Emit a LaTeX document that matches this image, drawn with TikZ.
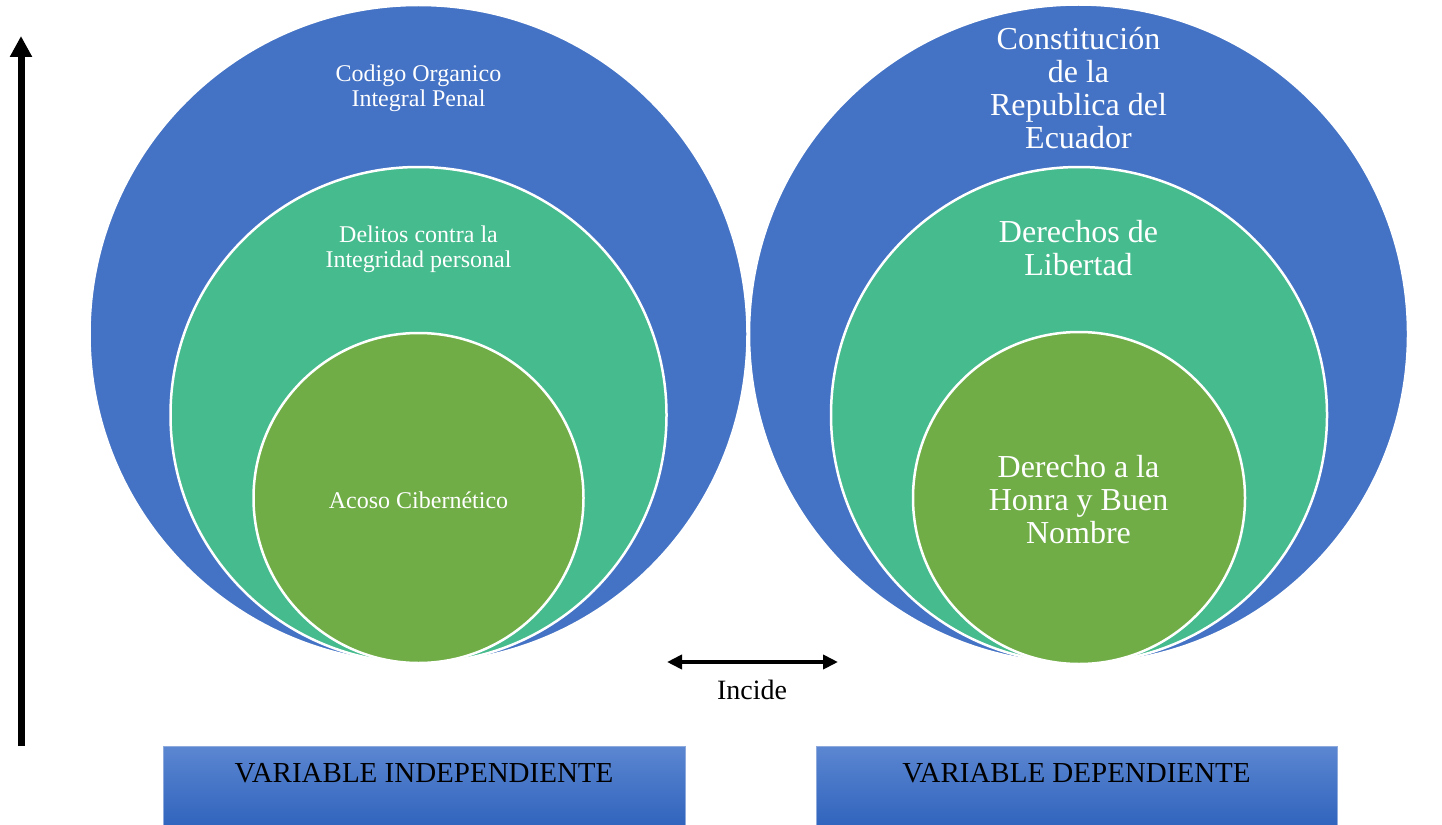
\documentclass[tikz,border=0pt]{standalone}
\usepackage{fontspec}
\setmainfont{Liberation Serif}
\usetikzlibrary{arrows.meta}
\definecolor{cblue}{HTML}{4472C4}
\definecolor{cteal}{HTML}{45BB8E}
\definecolor{cgreen}{HTML}{70AD47}
\definecolor{boxtop}{HTML}{5B86D1}
\definecolor{boxbot}{HTML}{2E62BC}
\definecolor{boxedge}{HTML}{8EA9DB}
\tikzset{
  ring/.style={circle, draw=white, line width=2.5pt, inner sep=0pt},
  smalltxt/.style={text=white, align=center, font=\fontsize{24}{25}\selectfont},
  bigtxt/.style={text=white, align=center, font=\fontsize{32}{33}\selectfont},
  varbox/.style={rectangle, inner sep=0pt, top color=boxtop, bottom color=boxbot, draw=boxedge, line width=0.8pt},
  vartxt/.style={text=black, font=\fontsize{29}{30}\selectfont},
}
\begin{document}
\begin{tikzpicture}[x=1pt, y=-1pt]
\useasboundingbox (0,0) rectangle (1442,824);
% left circles
\node[ring, fill=cblue, minimum size=658pt] (lo) at (418.5,334) {};
\node[ring, fill=cteal, minimum size=496pt] (lm) at (418.5,415) {};
\node[ring, fill=cgreen, minimum size=330pt] (li) at (418.5,498) {};
% right circles
\node[ring, fill=cblue, minimum size=659pt] (ro) at (1078.5,334) {};
\node[ring, fill=cteal, minimum size=496pt] (rm) at (1079,415) {};
\node[ring, fill=cgreen, minimum size=332pt] (ri) at (1079,498) {};
% texts
\node[smalltxt] (t1) at (418.5,88) {Codigo Organico\\Integral Penal};
\node[smalltxt] (t2) at (418.5,249) {Delitos contra la\\Integridad personal};
\node[smalltxt] (t3) at (418.5,500) {Acoso Cibernético};
\node[bigtxt] (t4) at (1078.5,88) {Constitución\\de la\\Republica del\\Ecuador};
\node[bigtxt] (t5) at (1078.5,248) {Derechos de\\Libertad};
\node[bigtxt] (t6) at (1078.5,500) {Derecho a la\\Honra y Buen\\Nombre};
% vertical arrow
\coordinate (vb) at (21,746);
\coordinate (vt) at (21,36);
\draw[line width=7pt, -{Triangle[length=21pt,width=21pt]}] (vb) -- (vt);
% double arrow
\coordinate (da) at (667,662);
\coordinate (db) at (838,662);
\draw[line width=4pt, {Triangle[length=15pt,width=14pt]}-{Triangle[length=15pt,width=14pt]}] (da) -- (db);
\node[font=\fontsize{28}{29}\selectfont] (inc) at (752,690) {Incide};
% boxes
\node[varbox, minimum width=522pt, minimum height=84pt, anchor=north west] (bl) at (163,746) {};
\node[varbox, minimum width=521pt, minimum height=84pt, anchor=north west] (br) at (816,746) {};
\node[vartxt] (bt1) at (424,773) {VARIABLE INDEPENDIENTE};
\node[vartxt] (bt2) at (1076.5,773) {VARIABLE DEPENDIENTE};
\end{tikzpicture}
\end{document}
